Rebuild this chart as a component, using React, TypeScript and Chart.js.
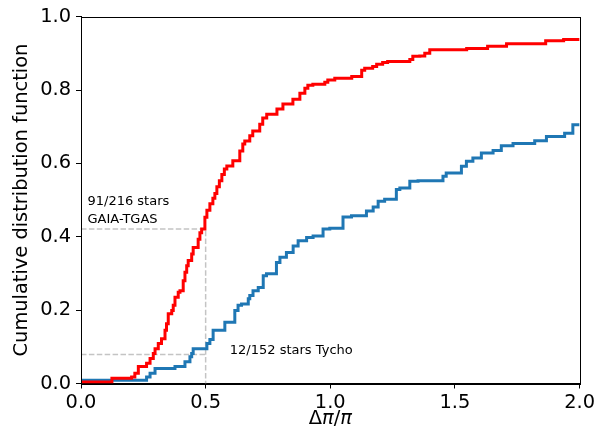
import React, { useEffect, useRef } from "react";
import { Chart, registerables } from "chart.js";

Chart.register(...registerables);

// GAIA-TGAS cumulative distribution (red)
const gaiaX = [0, 0.124, 0.203, 0.216, 0.23, 0.263, 0.277, 0.29, 0.297, 0.31, 0.323, 0.337, 0.343, 0.35, 0.364, 0.37, 0.377, 0.39, 0.397, 0.41, 0.417, 0.424, 0.43, 0.444, 0.45, 0.47, 0.477, 0.484, 0.497, 0.505, 0.517, 0.529, 0.537, 0.545, 0.555, 0.565, 0.575, 0.585, 0.609, 0.637, 0.649, 0.657, 0.677, 0.689, 0.717, 0.729, 0.745, 0.786, 0.81, 0.85, 0.878, 0.898, 0.91, 0.93, 0.978, 0.99, 1.018, 1.086, 1.126, 1.138, 1.17, 1.186, 1.21, 1.23, 1.319, 1.331, 1.359, 1.379, 1.399, 1.547, 1.631, 1.707, 1.864, 1.936, 1.948, 2.0];
const gaiaY = [0, 0.004, 0.014, 0.018, 0.028, 0.046, 0.055, 0.068, 0.082, 0.095, 0.109, 0.122, 0.145, 0.163, 0.19, 0.199, 0.213, 0.235, 0.249, 0.253, 0.28, 0.303, 0.321, 0.335, 0.353, 0.371, 0.393, 0.411, 0.421, 0.453, 0.472, 0.49, 0.505, 0.518, 0.536, 0.553, 0.57, 0.585, 0.593, 0.607, 0.634, 0.653, 0.661, 0.675, 0.688, 0.707, 0.724, 0.734, 0.748, 0.762, 0.775, 0.791, 0.805, 0.813, 0.816, 0.821, 0.827, 0.832, 0.837, 0.854, 0.859, 0.864, 0.87, 0.875, 0.878, 0.883, 0.892, 0.893, 0.9, 0.91, 0.913, 0.919, 0.926, 0.934, 0.938, 0.938];

// Tycho cumulative distribution (blue)
const tychoX = [0, 0.263, 0.277, 0.297, 0.377, 0.417, 0.437, 0.444, 0.45, 0.505, 0.517, 0.53, 0.577, 0.617, 0.63, 0.644, 0.671, 0.677, 0.69, 0.711, 0.731, 0.744, 0.784, 0.798, 0.824, 0.851, 0.871, 0.905, 0.931, 0.971, 0.998, 1.051, 1.085, 1.145, 1.172, 1.192, 1.218, 1.265, 1.279, 1.319, 1.352, 1.452, 1.465, 1.526, 1.546, 1.572, 1.606, 1.653, 1.686, 1.733, 1.82, 1.867, 1.94, 1.973, 1.998, 2.0];
const tychoY = [0, 0.009, 0.018, 0.028, 0.041, 0.046, 0.059, 0.073, 0.082, 0.095, 0.109, 0.12, 0.145, 0.167, 0.199, 0.213, 0.217, 0.231, 0.24, 0.253, 0.262, 0.294, 0.299, 0.33, 0.344, 0.357, 0.375, 0.389, 0.398, 0.402, 0.421, 0.423, 0.454, 0.457, 0.47, 0.481, 0.497, 0.502, 0.529, 0.533, 0.551, 0.553, 0.565, 0.574, 0.592, 0.606, 0.615, 0.628, 0.635, 0.648, 0.654, 0.662, 0.673, 0.682, 0.705, 0.705];

// Guide lines at Δπ/π = 0.5
const guideGaiaX = [0, 0.5, 0.5];
const guideGaiaY = [91 / 216, 91 / 216, 0];
const guideTychoX = [0, 0.5];
const guideTychoY = [12 / 152, 12 / 152];

// Annotations
const noteText = ["91/216 stars", "GAIA-TGAS", "12/152 stars Tycho"];
const noteX = [0.026, 0.026, 0.597];
const noteY = [0.486, 0.438, 0.08];

const xTicks = [0, 0.5, 1.0, 1.5, 2.0];
const yTicks = [0, 0.2, 0.4, 0.6, 0.8, 1.0];

// x-axis title pieces: [text, italic]
const xTitleParts: [string, boolean][] = [["Δ", false], ["π", true], ["/", false], ["π", true]];

const FONT = "'DejaVu Sans', sans-serif";

const pts = (xs: number[], ys: number[]) => xs.map((x, i) => ({ x, y: ys[i] }));

const framePlugin = {
  id: "frame",
  afterDatasetsDraw(chart: any) {
    const { ctx, scales } = chart;
    ctx.save();
    ctx.fillStyle = "#000";
    ctx.font = `13px ${FONT}`;
    ctx.textAlign = "left";
    ctx.textBaseline = "alphabetic";
    noteText.forEach((t, i) => {
      ctx.fillText(t, scales.x.getPixelForValue(noteX[i]), scales.y.getPixelForValue(noteY[i]));
    });
    ctx.restore();
  },
  afterDraw(chart: any) {
    const { ctx, chartArea } = chart;
    ctx.save();
    ctx.strokeStyle = "#000";
    ctx.lineWidth = 1;
    const l = Math.round(chartArea.left) + 0.5;
    const r = Math.round(chartArea.right) + 0.5;
    const t = Math.round(chartArea.top) + 0.5;
    const b = Math.round(chartArea.bottom) + 0.5;
    ctx.strokeRect(l, t, r - l, b - t);

    // x-axis title with mathtext-like styling
    const size = 19.4;
    const fontFor = (it: boolean) => `${it ? "italic " : ""}${size}px ${FONT}`;
    let total = 0;
    const widths = xTitleParts.map(([s, it]) => {
      ctx.font = fontFor(it);
      const w = ctx.measureText(s).width;
      total += w;
      return w;
    });
    let x = (chartArea.left + chartArea.right) / 2 - total / 2;
    const y = chart.height - 14;
    ctx.fillStyle = "#000";
    ctx.textAlign = "left";
    ctx.textBaseline = "alphabetic";
    xTitleParts.forEach(([s, it], i) => {
      ctx.font = fontFor(it);
      ctx.fillText(s, x, y);
      x += widths[i];
    });
    ctx.restore();
  },
};

export default function App() {
  const ref = useRef<HTMLCanvasElement | null>(null);

  useEffect(() => {
    document.body.style.margin = "0";
    const canvas = ref.current!;
    const guideStyle = {
      borderColor: "#c4c4c4",
      borderWidth: 1.5,
      borderDash: [5.5, 2.4],
      pointRadius: 0,
      fill: false,
    };
    const chart = new Chart(canvas, {
      type: "line",
      data: {
        datasets: [
          {
            label: "GAIA-TGAS",
            data: pts(gaiaX, gaiaY),
            borderColor: "#ff0000",
            borderWidth: 3,
            stepped: "after",
            pointRadius: 0,
            fill: false,
          },
          {
            label: "Tycho",
            data: pts(tychoX, tychoY),
            borderColor: "#1f77b4",
            borderWidth: 3,
            stepped: "after",
            pointRadius: 0,
            fill: false,
          },
          { label: "g1", data: pts(guideGaiaX, guideGaiaY), ...guideStyle },
          { label: "g2", data: pts(guideTychoX, guideTychoY), ...guideStyle },
        ],
      },
      options: {
        responsive: false,
        animation: false,
        events: [],
        layout: { padding: { left: 0, top: 14.5, right: 18, bottom: 0 } },
        plugins: {
          legend: { display: false },
          tooltip: { enabled: false },
        },
        scales: {
          x: {
            type: "linear",
            min: 0,
            max: 2,
            afterFit: (s: any) => {
              s.height = 54.5;
            },
            afterBuildTicks: (s: any) => {
              s.ticks = xTicks.map((v) => ({ value: v }));
            },
            ticks: {
              color: "#000",
              font: { family: FONT, size: 19.4 },
              padding: 3,
              maxRotation: 0,
              callback: (v: any) => Number(v).toFixed(1),
            },
            grid: {
              drawOnChartArea: false,
              drawTicks: true,
              tickLength: 5,
              tickColor: "#000",
              tickWidth: 1,
            },
            border: { display: true, color: "#000", width: 1 },
            title: { display: false },
          },
          y: {
            type: "linear",
            min: 0,
            max: 1,
            afterFit: (s: any) => {
              s.width = 81;
            },
            afterBuildTicks: (s: any) => {
              s.ticks = yTicks.map((v) => ({ value: v }));
            },
            ticks: {
              color: "#000",
              font: { family: FONT, size: 19.4 },
              padding: 5,
              callback: (v: any) => Number(v).toFixed(1),
            },
            grid: {
              drawOnChartArea: false,
              drawTicks: true,
              tickLength: 5,
              tickColor: "#000",
              tickWidth: 1,
            },
            border: { display: true, color: "#000", width: 1 },
            title: {
              display: true,
              text: "Cumulative distribution function",
              color: "#000",
              font: { family: FONT, size: 19.4 },
              padding: { top: 10, bottom: 0 },
            },
          },
        },
      },
      plugins: [framePlugin],
    });
    return () => chart.destroy();
  }, []);

  return <canvas ref={ref} width={598} height={438} style={{ display: "block" }} />;
}
